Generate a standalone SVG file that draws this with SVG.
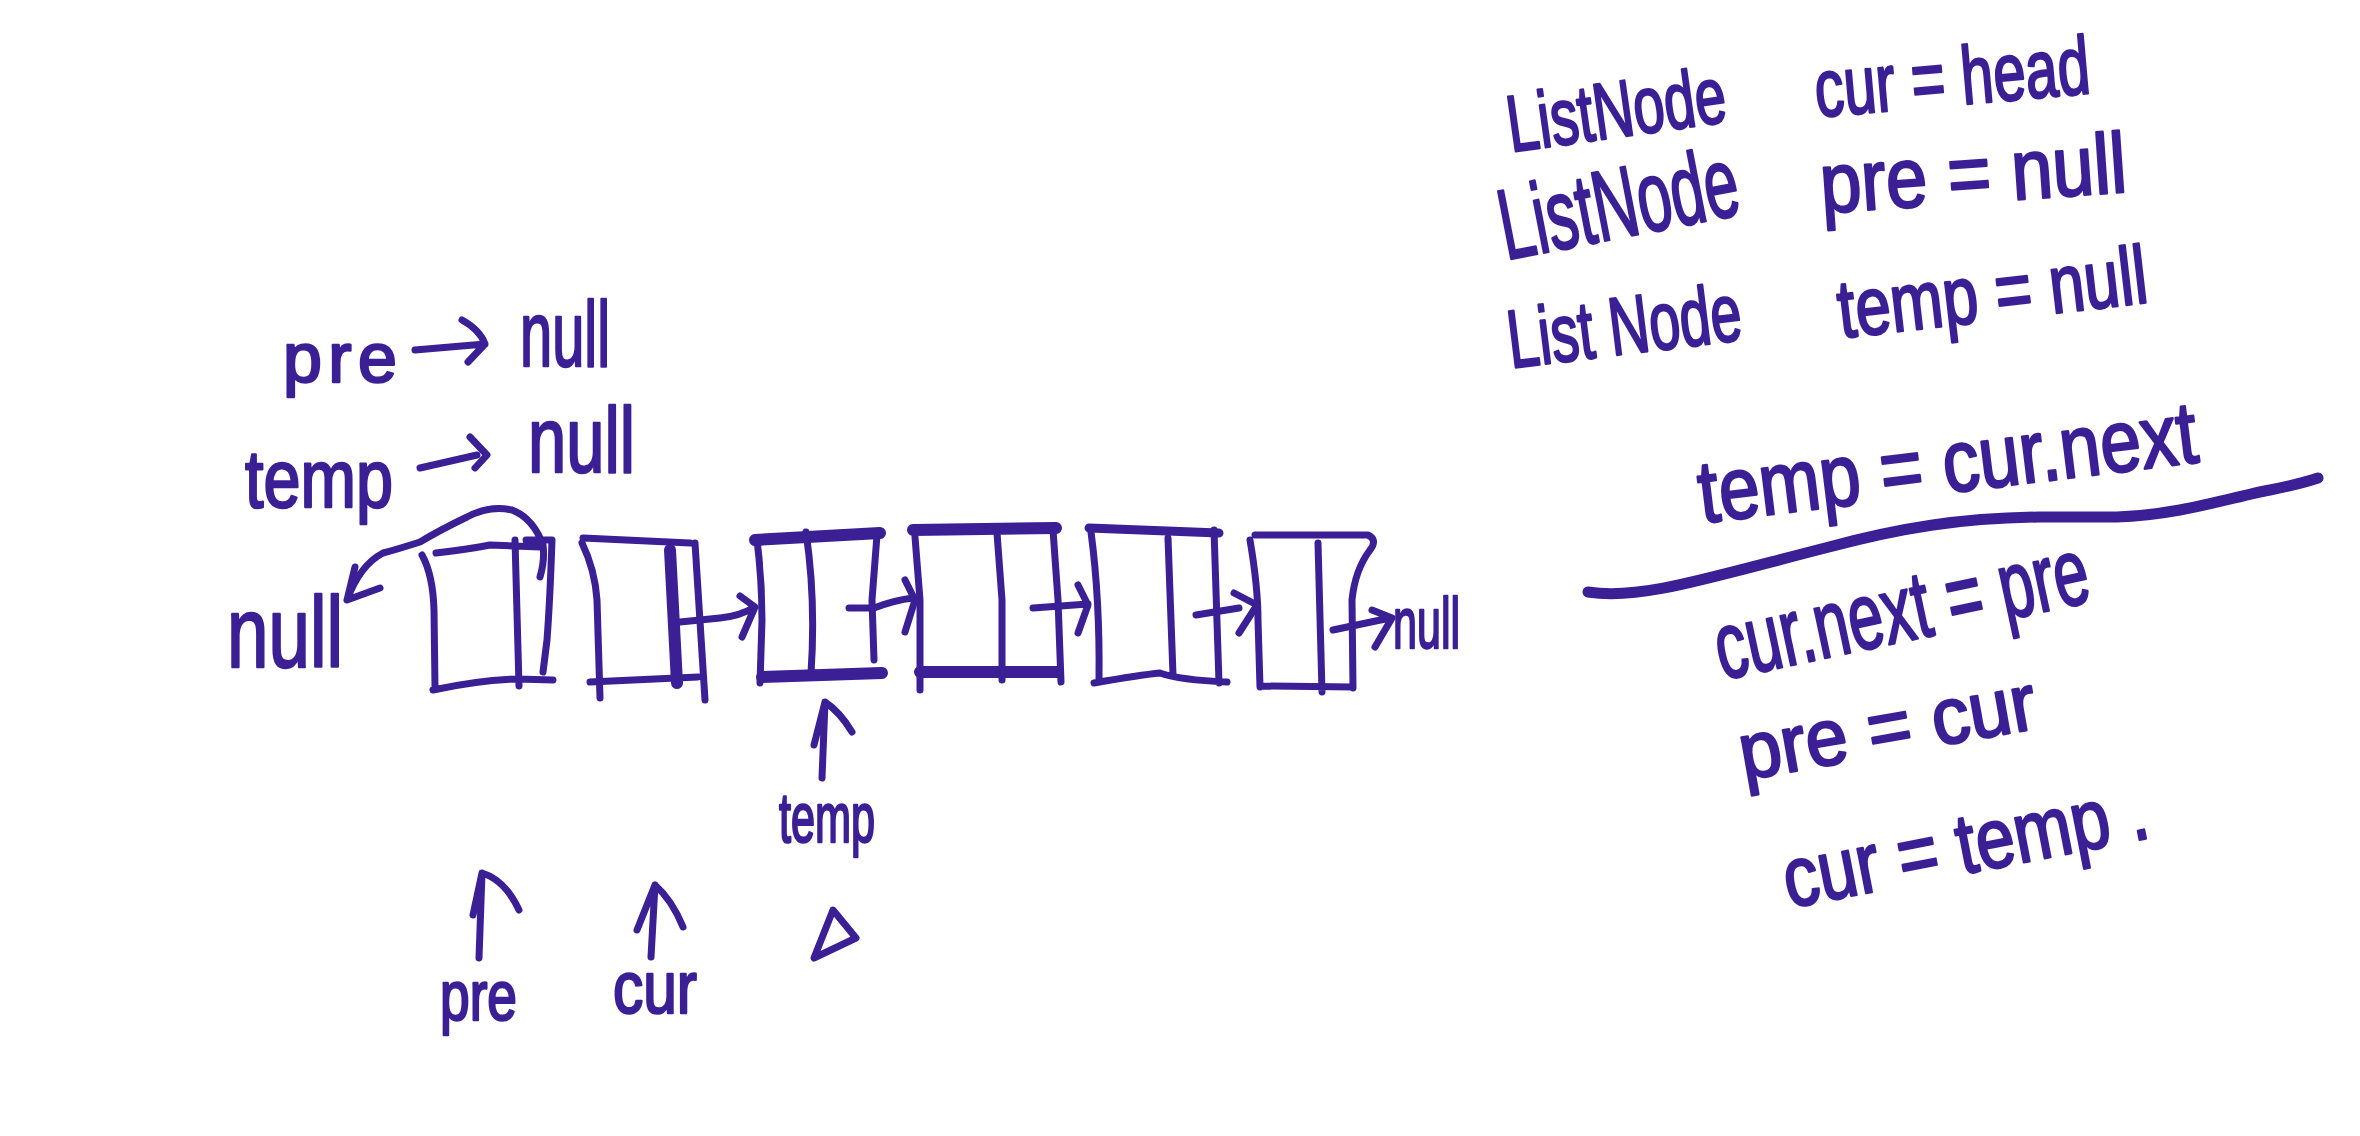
<svg xmlns="http://www.w3.org/2000/svg" width="2360" height="1136" viewBox="0 0 2360 1136">
<style>
.ink{fill:none;stroke:#3b1f94;stroke-width:7;stroke-linecap:round;stroke-linejoin:round}
.thick{stroke-width:12}
.hw{font-family:"Liberation Sans",Arial,sans-serif;fill:#3b1f94;stroke:#3b1f94;stroke-width:2.5;stroke-linejoin:round}
</style>
<rect width="2360" height="1136" fill="#ffffff"/>
<g id="node1">
<path class="ink" d="M422,555 Q433,575 434,610 L435,687 M433,690 Q480,680 517,679 L553,680 M436,553 Q470,549 490,545 L540,547 M515,540 L519,686 M526,540 L552,540 M552,540 Q550,600 547,640 L543,672"/>
</g>
<g id="node2">
<path class="ink" d="M582,543 Q595,570 597,600 L600,698 M590,682 L698,677 M583,538 L690,543 M695,543 L705,700"/>
<path class="ink thick" d="M670,550 L677,683"/>
</g>
<g id="node3">
<path class="ink thick" d="M755,540 L880,533 M762,677 L882,673"/>
<path class="ink" d="M757,540 Q762,580 762,620 L760,683 M806,532 Q816,600 811,673 M877,535 L872,600 L874,660"/>
</g>
<g id="node4">
<path class="ink thick" d="M913,530 L1056,528 M920,672 L1058,672"/>
<path class="ink" d="M915,537 L920,600 L920,690 M997,533 L1002,600 L1002,680 M1053,530 L1058,600 L1061,682"/>
</g>
<g id="node5">
<path class="ink" style="stroke-width:9" d="M1089,528 L1219,533"/>
<path class="ink" d="M1091,532 Q1100,600 1099,680 M1094,683 Q1140,675 1160,673 Q1180,680 1227,682 M1168,538 L1173,675 M1214,530 L1219,683"/>
</g>
<g id="node6">
<path class="ink" d="M1255,535 L1368,535 Q1378,540 1370,550 Q1355,570 1352,600 L1353,688 M1250,540 Q1258,587 1258,620 L1260,687 M1260,686 L1353,687 M1318,543 L1322,692"/>
</g>
<g id="connectors">
<path class="ink" d="M540,577 Q545,560 543,545 Q533,518 512,510 Q490,505 467,517 Q440,530 420,542 Q395,550 383,553 Q360,565 347,600 M355,567 L347,600 L380,588"/>
<path class="ink" d="M680,622 L720,618 Q740,616 755,607 M740,596 L755,607 L742,637"/>
<path class="ink" d="M849,608 L874,608 Q895,600 913,598 M905,580 L915,600 L905,632"/>
<path class="ink" d="M1033,608 L1088,604 M1078,585 L1088,605 L1078,633"/>
<path class="ink" d="M1196,615 L1239,608 M1234,593 L1257,605 L1239,633"/>
<path class="ink" d="M1333,630 L1390,618 M1372,610 L1392,618 L1375,647"/>
<path class="ink" d="M415,350 L485,344 M462,320 Q480,330 485,344 L468,362"/>
<path class="ink" d="M420,468 L477,455 M470,437 L487,455 L475,468"/>
<path class="ink" d="M822,778 L825,702 M814,745 L825,702 Q840,712 852,732"/>
<path class="ink" d="M479,958 L482,873 M473,915 L482,873 Q505,880 519,910"/>
<path class="ink" d="M651,957 L655,885 M637,930 L655,885 Q672,900 683,927"/>
<path class="ink" d="M833,910 L856,938 L814,958 Z"/>
<path class="ink" style="stroke-width:11" d="M1588,592 C1640,600 1700,580 1829,547 C1900,528 1960,518 2040,517 L2117,517 C2180,515 2232,497 2270,490 C2300,484 2318,478 2318,478"/>
</g>
<g id="labels">
<text class="hw" x="283" y="382" font-size="70" textLength="114" lengthAdjust="spacing">pre</text>
<text class="hw" x="520" y="366" font-size="92" textLength="90" lengthAdjust="spacingAndGlyphs">null</text>
<text class="hw" x="245" y="507" font-size="82" textLength="148" lengthAdjust="spacingAndGlyphs">temp</text>
<text class="hw" x="528" y="472" font-size="92" textLength="107" lengthAdjust="spacingAndGlyphs">null</text>
<text class="hw" x="227" y="667" font-size="100" textLength="116" lengthAdjust="spacingAndGlyphs">null</text>
<text class="hw" x="1393" y="648" font-size="72" textLength="67" lengthAdjust="spacingAndGlyphs">null</text>
<text class="hw" x="779" y="842" font-size="70" textLength="96" lengthAdjust="spacingAndGlyphs">temp</text>
<text class="hw" x="440" y="1020" font-size="70" textLength="77" lengthAdjust="spacingAndGlyphs">pre</text>
<text class="hw" x="613" y="1013" font-size="74" textLength="84" lengthAdjust="spacingAndGlyphs">cur</text>
<text class="hw" x="1511" y="152" font-size="80" textLength="220" lengthAdjust="spacingAndGlyphs" transform="rotate(-8 1511 152)">ListNode</text>
<text class="hw" x="1817" y="117" font-size="82" textLength="276" lengthAdjust="spacingAndGlyphs" transform="rotate(-5 1817 117)">cur = head</text>
<text class="hw" x="1506" y="260" font-size="100" textLength="242" lengthAdjust="spacingAndGlyphs" transform="rotate(-11 1506 260)">ListNode</text>
<text class="hw" x="1822" y="213" font-size="85" textLength="307" lengthAdjust="spacingAndGlyphs" transform="rotate(-4 1822 213)">pre = null</text>
<text class="hw" x="1511" y="368" font-size="82" textLength="235" lengthAdjust="spacingAndGlyphs" transform="rotate(-7 1511 368)">List Node</text>
<text class="hw" x="1841" y="338" font-size="82" textLength="311" lengthAdjust="spacingAndGlyphs" transform="rotate(-6.6 1841 338)">temp = null</text>
<text class="hw" x="1702" y="523" font-size="88" textLength="502" lengthAdjust="spacingAndGlyphs" transform="rotate(-7 1702 523)">temp = cur.next</text>
<text class="hw" x="1722" y="680" font-size="95" textLength="380" lengthAdjust="spacingAndGlyphs" transform="rotate(-12 1722 680)">cur.next = pre</text>
<text class="hw" x="1744" y="780" font-size="80" textLength="300" lengthAdjust="spacingAndGlyphs" transform="rotate(-10 1744 780)">pre = cur</text>
<text class="hw" x="1789" y="908" font-size="85" textLength="370" lengthAdjust="spacingAndGlyphs" transform="rotate(-11 1789 908)">cur = temp .</text>
</g>
</svg>
